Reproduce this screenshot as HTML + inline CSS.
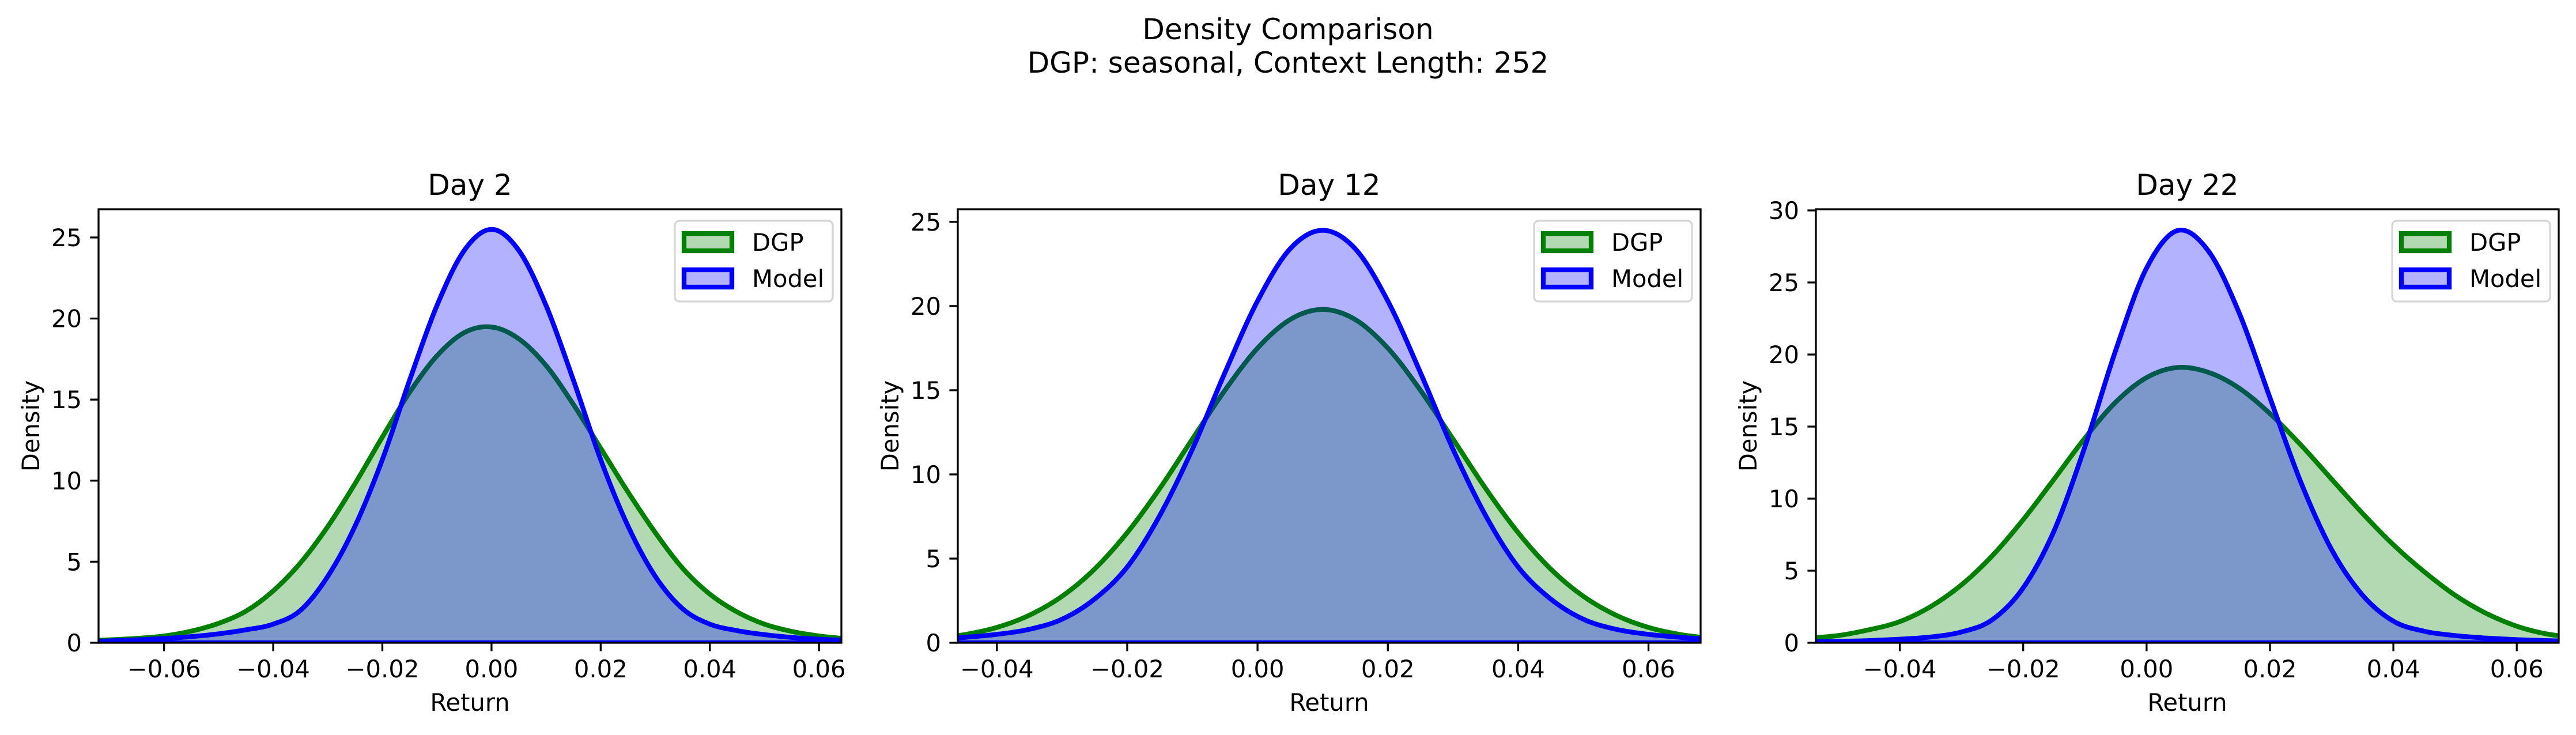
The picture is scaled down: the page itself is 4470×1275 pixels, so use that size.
<!DOCTYPE html>
<html><head><meta charset="utf-8"><style>
html,body{margin:0;padding:0;background:#fff;}
svg{display:block;font-family:"DejaVu Sans","Liberation Sans",sans-serif;}
</style></head><body>
<svg id="fig" width="4470" height="1275" viewBox="0 0 4470 1275" xmlns="http://www.w3.org/2000/svg">
<rect width="4470" height="1275" fill="#fff"/>
<text x="2235" y="68" font-size="50" text-anchor="middle">Density Comparison</text>
<text x="2235" y="126" font-size="50" text-anchor="middle">DGP: seasonal, Context Length: 252</text>
</svg>
<script>
const p1X=[-0.075,-0.07,-0.065,-0.06,-0.055,-0.05,-0.045,-0.04,-0.035,-0.03,-0.025,-0.02,-0.015,-0.01,-0.005,0,0.005,0.01,0.015,0.02,0.025,0.03,0.035,0.04,0.045,0.05,0.055,0.06,0.065];
const p1Dgp=[0.12,0.18,0.27,0.42,0.72,1.2,1.95,3.2,4.93,7.17,9.82,12.69,15.45,17.7,19.13,19.48,18.75,17.1,14.7,12.0,9.3,6.8,4.6,3.0,1.9,1.15,0.7,0.42,0.25];
const p1Model=[0.08,0.12,0.18,0.26,0.38,0.55,0.8,1.15,2.0,4.1,7.2,11.3,16.2,20.8,24.2,25.5,24.2,20.8,16.2,11.3,7.2,4.1,2.1,1.15,0.75,0.5,0.33,0.22,0.15];
const p2X=[-0.05,-0.045,-0.04,-0.035,-0.03,-0.025,-0.02,-0.015,-0.01,-0.005,0,0.005,0.01,0.015,0.02,0.025,0.03,0.035,0.04,0.045,0.05,0.055,0.06,0.065,0.07];
const p2Dgp=[0.24,0.48,0.91,1.64,2.76,4.38,6.54,9.17,12.1,15.0,17.5,19.2,19.8,19.2,17.5,15.0,12.1,9.17,6.54,4.38,2.76,1.64,0.91,0.48,0.24];
const p2Model=[0.2,0.32,0.5,0.8,1.4,2.6,4.5,7.56,11.5,16.05,20.3,23.4,24.5,23.4,20.3,16.05,11.5,7.56,4.5,2.6,1.4,0.8,0.5,0.32,0.2];
const p3X=[-0.055,-0.05,-0.045,-0.04,-0.035,-0.03,-0.025,-0.02,-0.015,-0.01,-0.005,0,0.005,0.01,0.015,0.02,0.025,0.03,0.035,0.04,0.045,0.05,0.055,0.06,0.065,0.07];
const p3Dgp=[0.32,0.5,0.9,1.47,2.51,4.02,6.04,8.54,11.35,14.2,16.7,18.4,19.1,18.77,17.67,15.9,13.73,11.35,8.98,6.8,4.93,3.3,2.05,1.15,0.6,0.35];
const p3Model=[0.07,0.1,0.15,0.25,0.4,0.75,1.6,3.81,7.77,13.6,20.3,26.0,28.6,27.2,22.9,17.0,11.15,6.46,3.31,1.5,0.8,0.5,0.33,0.22,0.15,0.1];
const panelTitles=["Day 2","Day 12","Day 22"];
const p1XTicks=[-0.06,-0.04,-0.02,0,0.02,0.04,0.06];
const p2XTicks=[-0.04,-0.02,0,0.02,0.04,0.06];
const p3XTicks=[-0.04,-0.02,0,0.02,0.04,0.06];
const p1YTicks=[0,5,10,15,20,25];
const p2YTicks=[0,5,10,15,20,25];
const p3YTicks=[0,5,10,15,20,25,30];
const legendLabels=["DGP","Model"];

const NS="http://www.w3.org/2000/svg";
const svg=document.getElementById('fig');
function mk(tag,attrs,parent){const e=document.createElementNS(NS,tag);for(const k in attrs)e.setAttribute(k,attrs[k]);(parent||svg).appendChild(e);return e;}
function fmt(v){if(Math.abs(v)<1e-9)return "0.00";const s=Math.abs(v).toFixed(2);return (v<0?"\u2212":"")+s;}

const panels=[
 {left:171,xmin:-0.0720,xmax:0.0641,ymax:26.74,x:p1X,dgp:p1Dgp,model:p1Model,xt:p1XTicks,yt:p1YTicks},
 {left:1662,xmin:-0.0460,xmax:0.0680,ymax:25.75,x:p2X,dgp:p2Dgp,model:p2Model,xt:p2XTicks,yt:p2YTicks},
 {left:3151,xmin:-0.0536,xmax:0.0668,ymax:30.08,x:p3X,dgp:p3Dgp,model:p3Model,xt:p3XTicks,yt:p3YTicks}
];
const W=1289,TOP=363,BOT=1115,H=BOT-TOP;

function smoothPath(pts){
  let d="M"+pts[0][0].toFixed(1)+","+pts[0][1].toFixed(1);
  for(let i=0;i<pts.length-1;i++){
    const p0=pts[Math.max(i-1,0)],p1=pts[i],p2=pts[i+1],p3=pts[Math.min(i+2,pts.length-1)];
    const c1x=p1[0]+(p2[0]-p0[0])/6,c1y=p1[1]+(p2[1]-p0[1])/6;
    const c2x=p2[0]-(p3[0]-p1[0])/6,c2y=p2[1]-(p3[1]-p1[1])/6;
    d+=" C"+c1x.toFixed(1)+","+c1y.toFixed(1)+" "+c2x.toFixed(1)+","+c2y.toFixed(1)+" "+p2[0].toFixed(1)+","+p2[1].toFixed(1);
  }
  return d;
}

panels.forEach((p,i)=>{
  const L=p.left,R=L+W;
  const sx=v=>L+(v-p.xmin)/(p.xmax-p.xmin)*W;
  const sy=v=>BOT-v/p.ymax*H;
  const g=mk('g',{});
  
  
  const defs=mk('defs',{},g);
  const cp=mk('clipPath',{id:'clip'+i},defs);
  mk('rect',{x:L,y:TOP,width:W,height:H},cp);
  const plot=mk('g',{'clip-path':'url(#clip'+i+')'},g);
  const series=[[p.dgp,'#008000','rgba(0,128,0,0.3)','dgp'],[p.model,'#0000ff','rgba(0,0,255,0.3)','model']];
  series.forEach(s=>{
    const pts=p.x.map((xv,k)=>[sx(xv),sy(s[0][k])]);
    const d=smoothPath(pts)+" L"+sx(p.x[p.x.length-1]).toFixed(1)+","+sy(0).toFixed(1)+" L"+sx(p.x[0]).toFixed(1)+","+sy(0).toFixed(1)+" Z";
    const path=mk('path',{d:d,fill:s[2],stroke:s[1],'stroke-width':8.3,'stroke-linejoin':'round'},plot);
    
    
  });
  // spines
  const frame=mk('rect',{x:L,y:TOP,width:W,height:H,fill:'none',stroke:'#000','stroke-width':3.3},g);
  
  
  // x ticks
  p.xt.forEach(t=>{
    const x=sx(t);
    const tk=mk('line',{x1:x,x2:x,y1:BOT,y2:BOT+14.6,stroke:'#000','stroke-width':3.3},g);
    
    
    const tl=mk('text',{x:x,y:1175,'font-size':41.7,'text-anchor':'middle'},g);
    tl.textContent=fmt(t);
    
    
  });
  p.yt.forEach(t=>{
    const y=sy(t);
    const tk=mk('line',{x1:L-14.6,x2:L,y1:y,y2:y,stroke:'#000','stroke-width':3.3},g);
    
    
    const tl=mk('text',{x:L-29,y:y+15,'font-size':41.7,'text-anchor':'end'},g);
    tl.textContent=String(t);
    
    
  });
  const title=mk('text',{x:L+W/2,y:338,'font-size':50,'text-anchor':'middle'},g);
  title.textContent=panelTitles[i];
  
  
  const xl=mk('text',{x:L+W/2,y:1233,'font-size':41.7,'text-anchor':'middle'},g);
  xl.textContent="Return";
  
  
  const yx=L-118;
  const yl=mk('text',{x:yx+15,y:(TOP+BOT)/2,'font-size':41.7,'text-anchor':'middle',transform:'rotate(-90 '+(yx+15)+' '+((TOP+BOT)/2)+')'},g);
  yl.textContent="Density";
  
  
  // legend
  const lg=mk('g',{},g);
  
  
  const bx=R-289;
  mk('rect',{x:bx,y:383,width:274,height:140,rx:8,fill:'rgba(255,255,255,0.8)',stroke:'#d6d6d6','stroke-width':3.3},lg);
  [['rgba(0,128,0,0.3)','#008000',420],['rgba(0,0,255,0.3)','#0000ff',483]].forEach((e,k)=>{
    const ent=mk('g',{},lg);
    
    
    mk('rect',{x:bx+16,y:e[2]-15,width:83,height:30,fill:'#fff',stroke:'none'},ent);
    mk('rect',{x:bx+16,y:e[2]-15,width:83,height:30,fill:e[0],stroke:e[1],'stroke-width':8.3},ent);
    const t=mk('text',{x:bx+134,y:e[2]+15,'font-size':41.7},ent);
    t.textContent=legendLabels[k];
  });
});
</script>
</body></html>
